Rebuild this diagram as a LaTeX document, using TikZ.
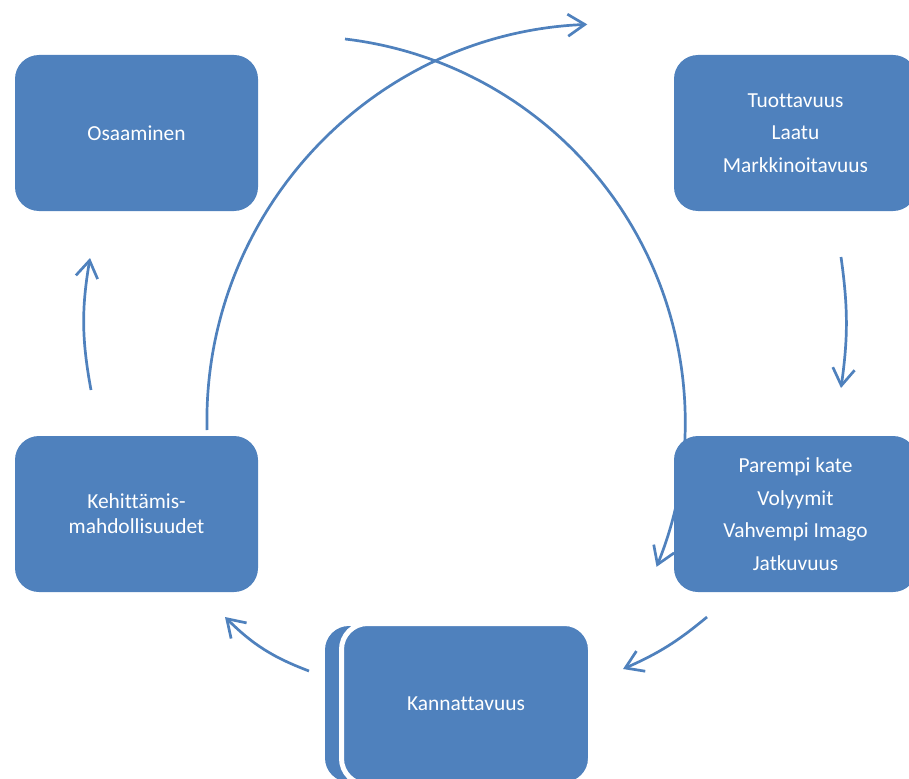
\documentclass[tikz,border=0pt]{standalone}
\usepackage{fontspec}
\setmainfont{Carlito}[Ligatures=NoCommon]
\usetikzlibrary{arrows.meta}
\definecolor{boxblue}{HTML}{4F81BD}
\tikzstyle{box}=[shape=rectangle,rounded corners=24pt,fill=boxblue,text=white,minimum width=243pt,minimum height=156pt,inner sep=0pt,outer sep=0pt,align=center,font=\fontsize{21.4}{32.5}\selectfont]
\tikzstyle{flow}=[draw=boxblue,line width=2.7pt,-{Straight Barb[length=17pt,width=22pt,line width=2.7pt]}]
\newcommand{\blok}[4]{\node[box,#4] (#1) at (#2) {#3};}

\begin{document}
\begin{tikzpicture}[x=1pt,y=-1pt]
    \clip (0,0) rectangle (909,778);

    % big arcs, behind the boxes
    \coordinate (arcA) at (207,430);
    \coordinate (arcB) at (345,39);
    \draw[flow] (arcA) arc[start angle=178.7,end angle=267.6,radius=397];
    \draw[flow] (arcB) arc[start angle=-83.3,end angle=22.2,radius=385];

    \blok{osa}{136.5,133}{Osaaminen}{}
    \blok{tuo}{795.5,133}{Tuottavuus\\Laatu\\Markkinoitavuus}{}
    \blok{par}{795.5,514}{Parempi kate\\Volyymit\\Vahvempi Imago\\Jatkuvuus}{}
    \blok{keh}{136.5,514}{Kehittämis-\\mahdollisuudet}{font=\fontsize{21.4}{25}\selectfont}
    \blok{kanb}{446.5,704}{}{}
    \blok{kan}{466,704}{Kannattavuus}{draw=white,line width=5pt,minimum width=249pt,minimum height=161pt,rounded corners=26pt}

    \draw[flow] ([shift={(167,46)}]tuo.south west) to[bend left=8] ([shift={(167,-48)}]par.north west);
    \draw[flow] ([shift={(33,25)}]par.south west) to[bend left=8] ([shift={(32.5,45.5)}]kan.north east);
    \draw[flow] ([shift={(-32.5,47.5)}]kan.north west) to[bend left=12] ([shift={(-33,25)}]keh.south east);
    \draw[flow] ([shift={(76,-46)}]keh.north west) to[bend left=10] ([shift={(75,47)}]osa.south west);
\end{tikzpicture}
\end{document}
